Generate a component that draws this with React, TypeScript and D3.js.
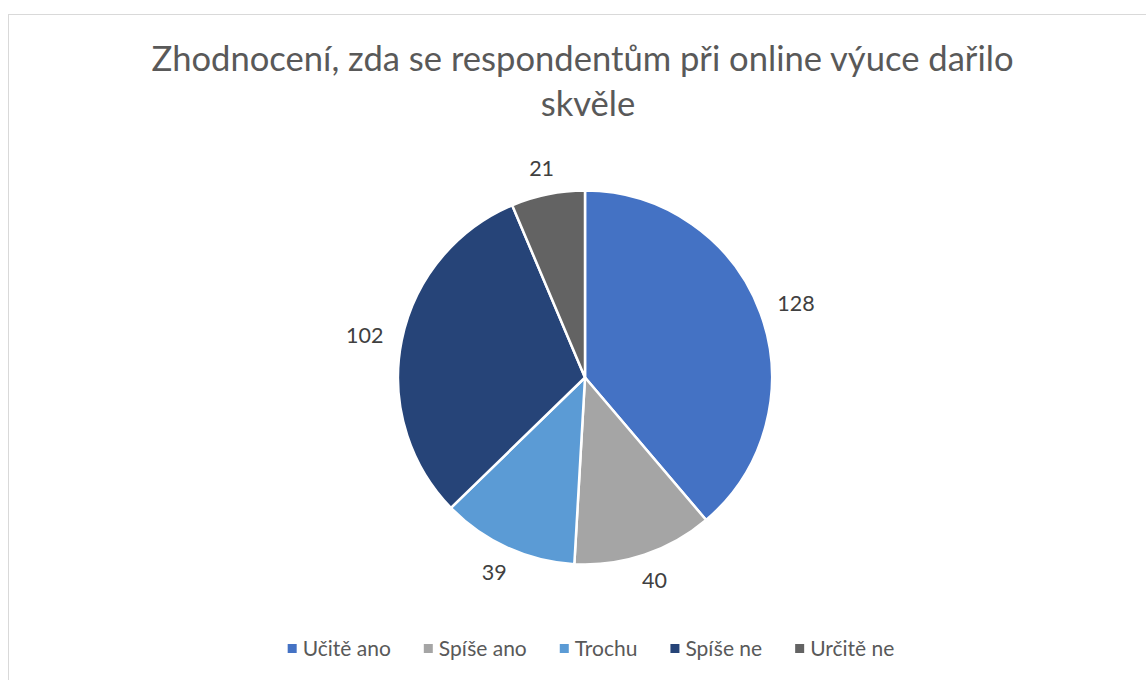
import React, { useMemo } from "react";
import * as d3 from "d3";

const categories = ["Učitě ano", "Spíše ano", "Trochu", "Spíše ne", "Určitě ne"];
const values = [128, 40, 39, 102, 21];
const colors = ["#4472C4", "#A5A5A5", "#5B9BD5", "#264478", "#636363"];
const titleLines = ["Zhodnocení, zda se respondentům při online výuce dařilo", "skvěle"];

const W = 1146;
const H = 680;
const FONT = "Lato, 'Open Sans', sans-serif";

function measure(text: string, size: number): number {
  if (typeof document === "undefined") return text.length * size * 0.5;
  const c = document.createElement("canvas");
  const ctx = c.getContext("2d")!;
  ctx.font = `${size}px Lato`;
  return ctx.measureText(text).width;
}

export default function App() {
  const cx = 585;
  const cy = 377.5;
  const r = 187;
  const labelSize = 21.5;
  const legendSize = 21;

  const pie = d3.pie<number>().sort(null).value((d) => d);
  const arcs = pie(values);
  const arc = d3.arc<d3.PieArcDatum<number>>().innerRadius(0).outerRadius(r);

  const legend = useMemo(() => {
    const sq = 9;
    const gapSq = 6;
    const gapItem = 33;
    const widths = categories.map((c) => measure(c, legendSize));
    const total =
      widths.reduce((a, b) => a + b, 0) + categories.length * (sq + gapSq) + (categories.length - 1) * gapItem;
    let x = 591 - total / 2;
    return categories.map((c, i) => {
      const item = { x, w: widths[i], c, i };
      x += sq + gapSq + widths[i] + gapItem;
      return item;
    });
  }, []);

  return (
    <svg width={W} height={H} style={{ display: "block", position: "absolute", left: 0, top: 0 }}>
      <rect x={0} y={0} width={W} height={H} fill="#ffffff" />
      <rect x={8.5} y={14.5} width={1160} height={700} fill="#ffffff" stroke="#D9D9D9" strokeWidth={1} />
      <g fontFamily={FONT} fill="#595959" fontSize={34.6} textAnchor="middle">
        <text x={582.5} y={71}>{titleLines[0]}</text>
        <text x={588} y={116}>{titleLines[1]}</text>
      </g>
      <g transform={`translate(${cx},${cy})`}>
        {arcs.map((a, i) => (
          <path key={i} d={arc(a) || ""} fill={colors[i]} stroke="#ffffff" strokeWidth={2.5} strokeLinejoin="round" />
        ))}
        {arcs.map((a, i) => {
          const mid = (a.startAngle + a.endAngle) / 2;
          const ux = Math.sin(mid);
          const uy = -Math.cos(mid);
          const text = String(values[i]);
          const w = measure(text, labelSize);
          const h = 16;
          const R = r + 19;
          const x = ux * R + (ux * w) / 2;
          const y = uy * R + (uy * h) / 2;
          return (
            <text
              key={i}
              x={x}
              y={y}
              dy="0.36em"
              textAnchor="middle"
              fontFamily={FONT}
              fontSize={labelSize}
              fill="#404040"
            >
              {text}
            </text>
          );
        })}
      </g>
      <g fontFamily={FONT} fontSize={legendSize} fill="#595959">
        {legend.map((it) => (
          <g key={it.i}>
            <rect x={it.x} y={644} width={9} height={9} fill={colors[it.i]} />
            <text x={it.x + 15} y={656}>{it.c}</text>
          </g>
        ))}
      </g>
    </svg>
  );
}
